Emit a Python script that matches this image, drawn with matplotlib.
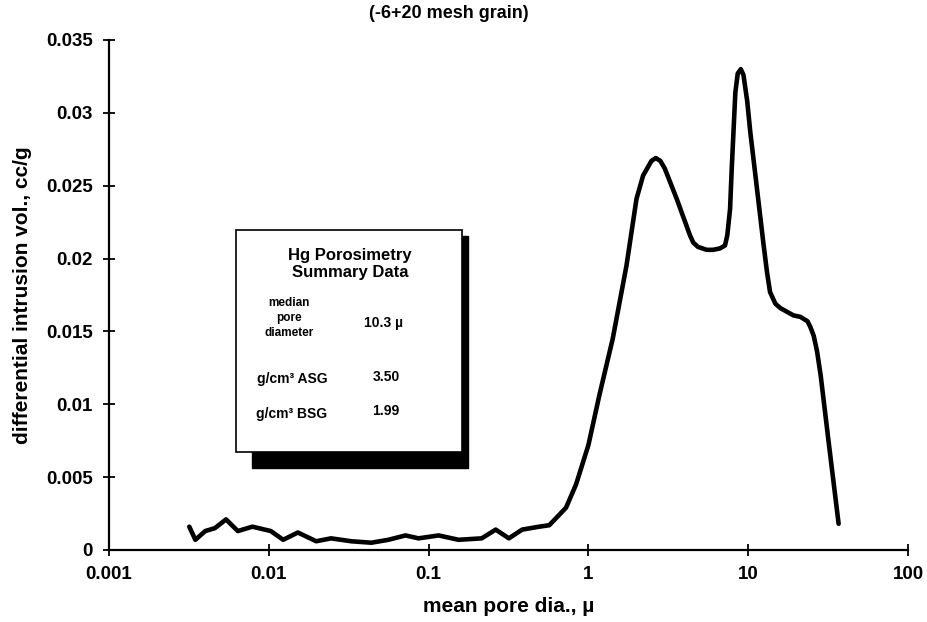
import matplotlib
matplotlib.use("Agg")
import matplotlib.pyplot as plt
from matplotlib.patches import Rectangle

plt.rcParams['font.family'] = ['Liberation Sans', 'DejaVu Sans']
plt.rcParams['font.weight'] = 'bold'

pore_dia = [0.00318, 0.00347, 0.0040, 0.0046, 0.0054, 0.0064, 0.0079, 0.0103, 0.0123,
            0.0152, 0.0198, 0.0245, 0.0328, 0.0438, 0.056, 0.0717, 0.0865, 0.1156,
            0.154, 0.215, 0.263, 0.318, 0.385, 0.492, 0.569, 0.724, 0.837, 1.0, 1.17,
            1.42, 1.73, 2.0, 2.20, 2.48, 2.64, 2.82, 3.0, 3.57, 4.32, 4.53, 4.85, 5.5,
            6.03, 6.67, 7.16, 7.4, 7.7, 7.89, 8.31, 8.6, 8.99, 9.34, 9.86, 10.3, 10.8,
            12.4, 13.1, 13.7, 14.8, 15.9, 19.2, 21.2, 23.5, 24.5, 25.7, 27.0, 28.4,
            31.8, 36.8]
diff_intrusion = [0.0016, 0.0007, 0.0013, 0.0015, 0.0021, 0.0013, 0.0016, 0.0013, 0.0007,
                  0.0012, 0.0006, 0.0008, 0.0006, 0.0005, 0.0007, 0.0010, 0.0008, 0.0010,
                  0.0007, 0.0008, 0.0014, 0.0008, 0.0014, 0.0016, 0.0017, 0.0029, 0.0045,
                  0.0072, 0.0106, 0.0145, 0.0195, 0.0241, 0.0257, 0.0267, 0.0269, 0.0267,
                  0.0262, 0.0241, 0.0216, 0.0211, 0.0208, 0.0206, 0.0206, 0.0207, 0.0209,
                  0.0216, 0.0234, 0.0262, 0.0314, 0.0327, 0.0330, 0.0326, 0.0308, 0.0287,
                  0.0268, 0.0212, 0.0191, 0.0177, 0.0169, 0.0166, 0.0161, 0.0160, 0.0157,
                  0.0153, 0.0147, 0.0136, 0.0120, 0.0075, 0.0018]

x_ticks = [0.001, 0.01, 0.1, 1, 10, 100]
x_tick_labels = ["0.001", "0.01", "0.1", "1", "10", "100"]
y_ticks = [0, 0.005, 0.01, 0.015, 0.02, 0.025, 0.03, 0.035]
y_tick_labels = ["0", "0.005", "0.01", "0.015", "0.02", "0.025", "0.03", "0.035"]

W, H = 927, 622
fig = plt.figure(figsize=(W / 100, H / 100), dpi=100)
ax = fig.add_axes([109 / W, 1 - 550 / H, (908 - 109) / W, (550 - 40) / H])

ax.plot(pore_dia, diff_intrusion, color='black', lw=3.3, solid_joinstyle='round',
        solid_capstyle='round')
ax.set_xscale('log')
ax.set_xlim(0.001, 100)
ax.set_ylim(0, 0.035)
ax.set_xticks(x_ticks)
ax.set_xticklabels(x_tick_labels)
ax.minorticks_off()
ax.set_yticks(y_ticks)
ax.set_yticklabels(y_tick_labels)
for s in ['top', 'right']:
    ax.spines[s].set_visible(False)
for s in ['left', 'bottom']:
    ax.spines[s].set_linewidth(1.6)
ax.tick_params(direction='inout', length=9, width=1.3, labelsize=13.5, pad=7)
for lab in ax.get_xticklabels() + ax.get_yticklabels():
    lab.set_fontweight('bold')
ax.set_xlabel("mean pore dia., µ", fontsize=15, fontweight='bold', labelpad=10)
ax.set_ylabel("differential intrusion vol., cc/g", fontsize=15, fontweight='bold', labelpad=10)

fig.text(449 / W, 1 - 14 / H, "(-6+20 mesh grain)", ha='center', va='center',
         fontsize=13, fontweight='bold')

# inset summary box with shadow
def fx(px):
    return px / W
def fy(py):
    return 1 - py / H

shadow = Rectangle((fx(252), fy(468)), fx(468) - fx(252), fy(236) - fy(468),
                   transform=fig.transFigure, facecolor='black', edgecolor='black', zorder=5)
box = Rectangle((fx(236), fy(452)), fx(462) - fx(236), fy(230) - fy(452),
                transform=fig.transFigure, facecolor='white', edgecolor='black', lw=1.2, zorder=6)
fig.patches.extend([shadow, box])

fs = 10
fig.text(fx(350), fy(264), "Hg Porosimetry\nSummary Data", ha='center', va='center',
         fontsize=12, fontweight='bold', linespacing=1.1, zorder=7)
fig.text(fx(289), fy(318), "median\npore\ndiameter", ha='center', va='center',
         fontsize=8.5, fontweight='bold', linespacing=1.35, zorder=7)
fig.text(fx(383), fy(323), "10.3 µ", ha='center', va='center', fontsize=fs, fontweight='bold', zorder=7)
fig.text(fx(292), fy(379), "g/cm³ ASG", ha='center', va='center', fontsize=fs, fontweight='bold', zorder=7)
fig.text(fx(386), fy(377), "3.50", ha='center', va='center', fontsize=fs, fontweight='bold', zorder=7)
fig.text(fx(292), fy(414), "g/cm³ BSG", ha='center', va='center', fontsize=fs, fontweight='bold', zorder=7)
fig.text(fx(386), fy(411), "1.99", ha='center', va='center', fontsize=fs, fontweight='bold', zorder=7)

fig.savefig("out.png", dpi=100)
